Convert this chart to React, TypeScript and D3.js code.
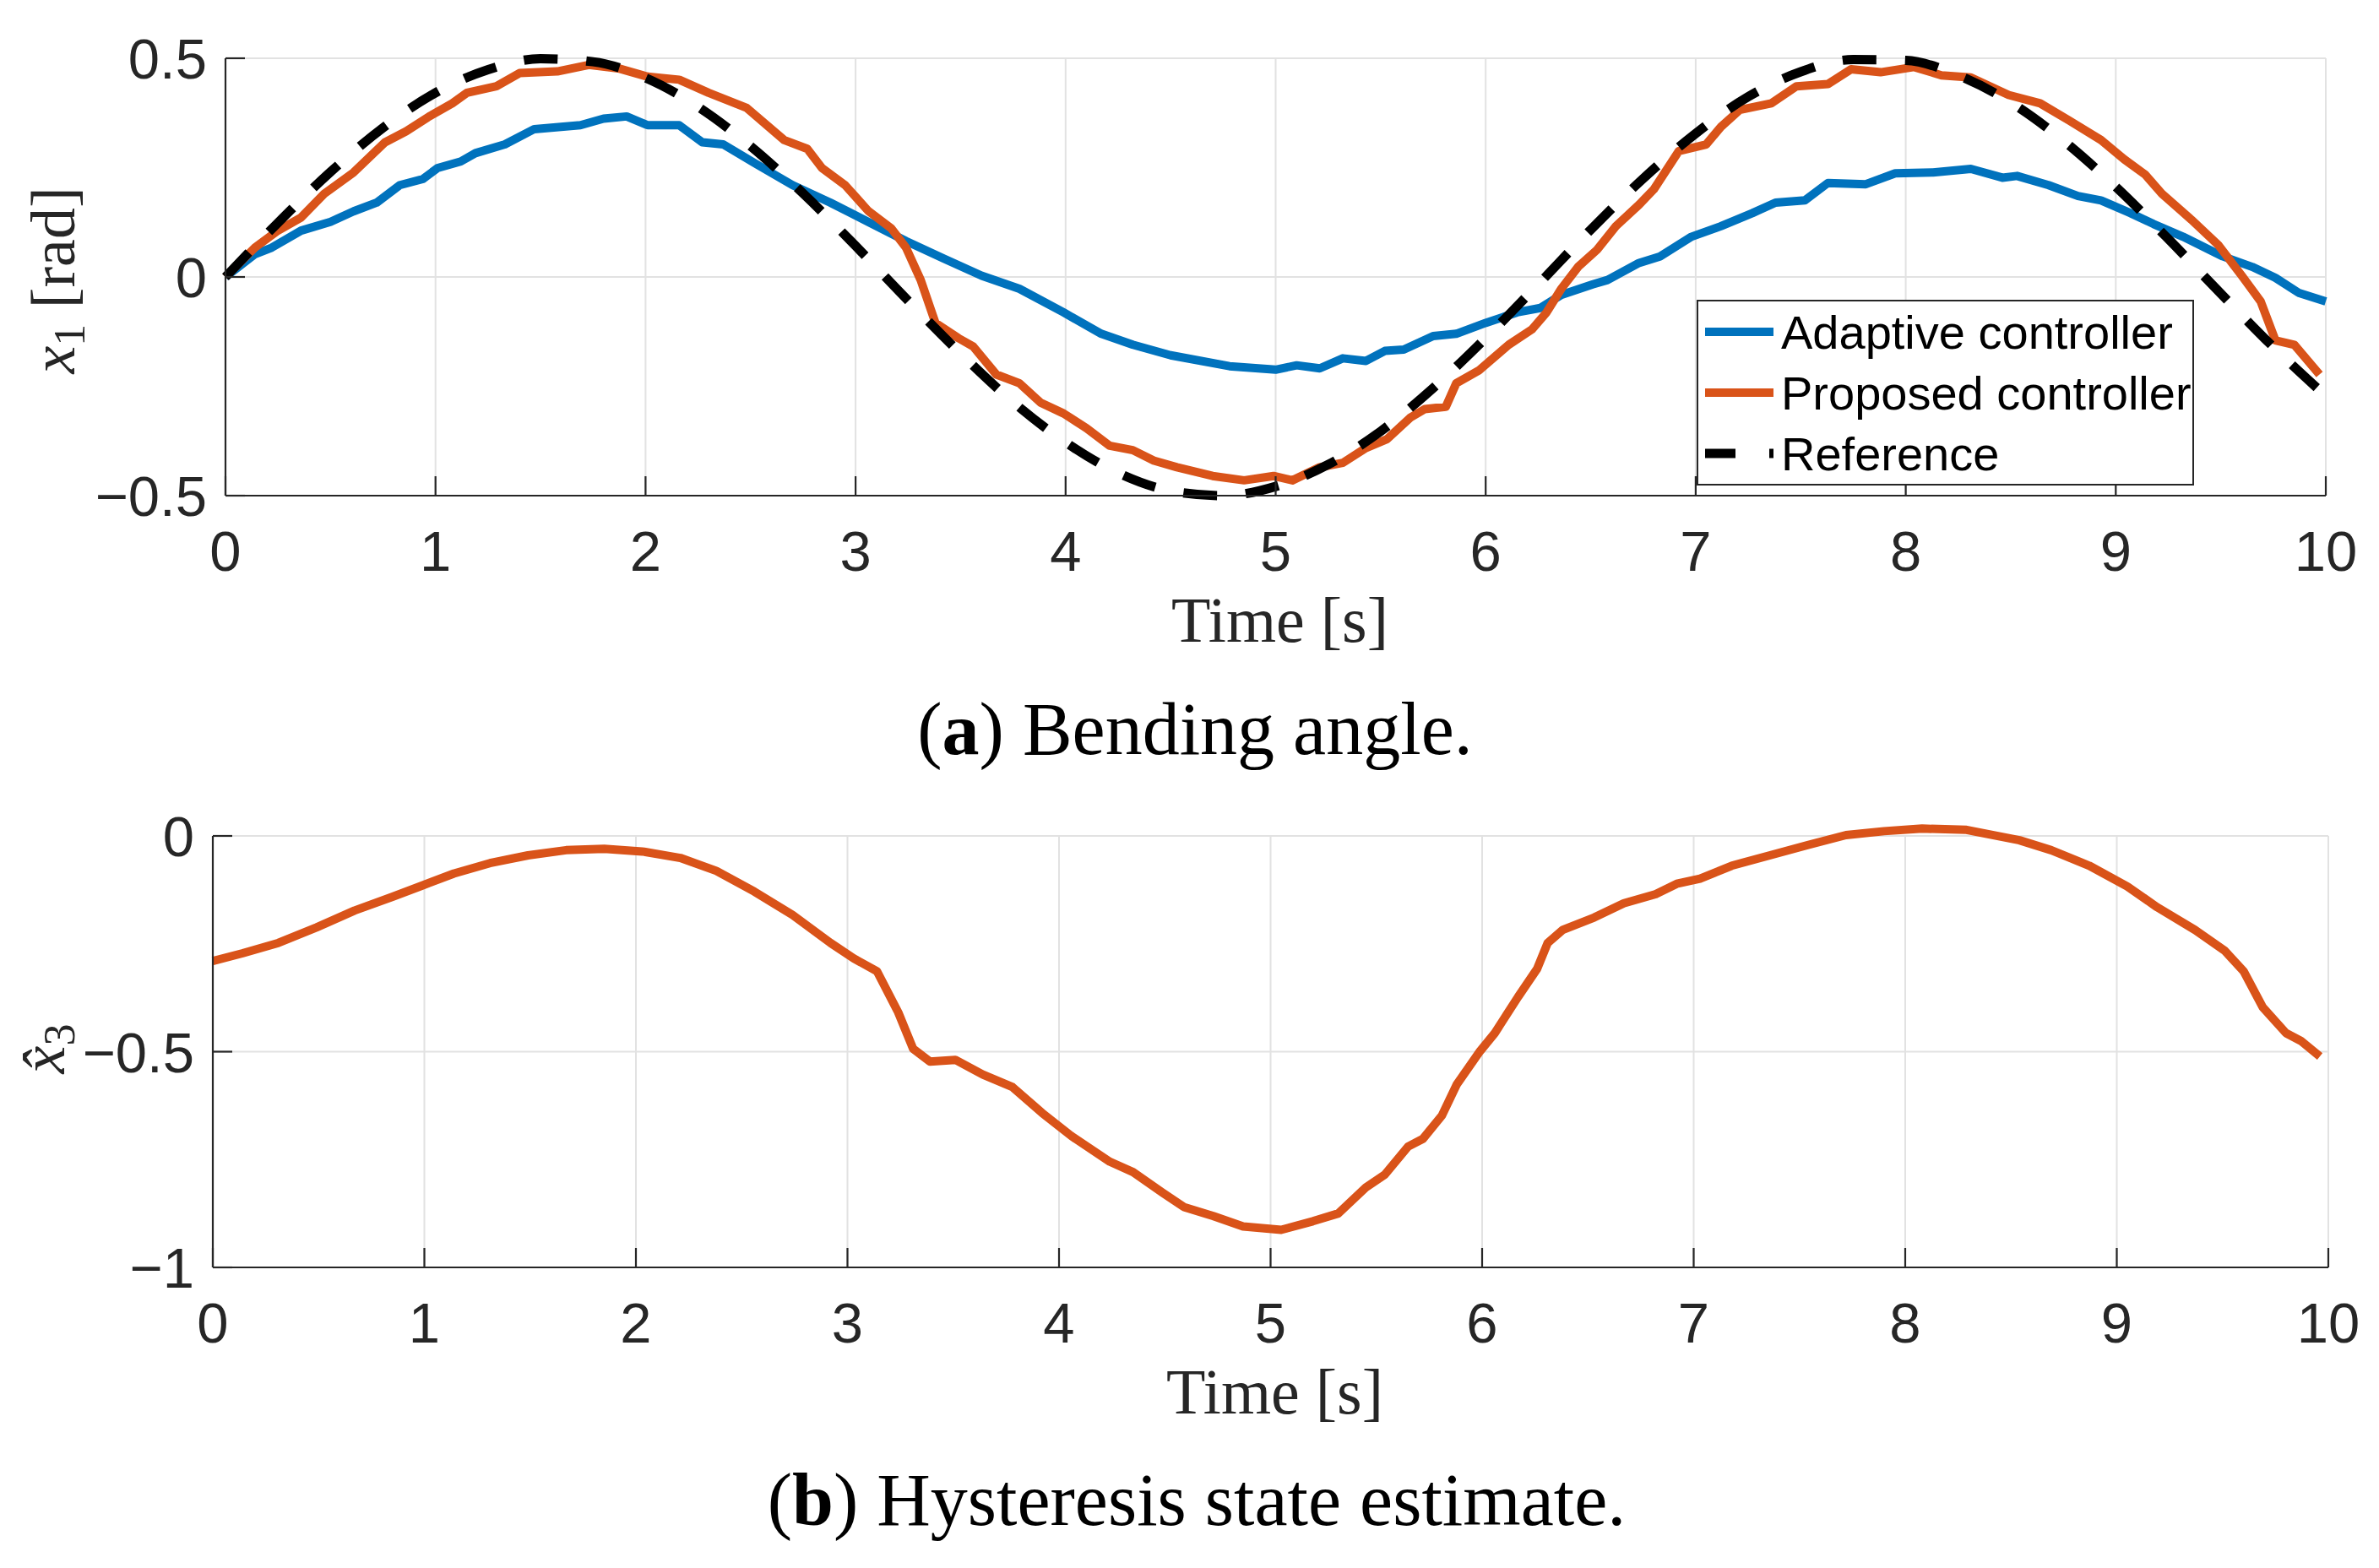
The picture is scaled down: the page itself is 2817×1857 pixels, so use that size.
import * as d3 from "d3";

// time [s], value pairs
const referenceT = [0, 0.25, 0.5, 0.75, 1, 1.25, 1.5, 1.75, 2, 2.25, 2.5, 2.75, 3, 3.25, 3.5, 3.75, 4, 4.25, 4.5, 4.75, 5, 5.25, 5.5, 5.75, 6, 6.25, 6.5, 6.75, 7, 7.25, 7.5, 7.75, 8, 8.25, 8.5, 8.75, 9, 9.25, 9.5, 9.75, 10];
const referenceX = [0, 0.124, 0.24, 0.341, 0.421, 0.474, 0.499, 0.492, 0.455, 0.389, 0.299, 0.191, 0.071, -0.054, -0.175, -0.286, -0.378, -0.448, -0.489, -0.5, -0.479, -0.429, -0.353, -0.254, -0.14, -0.017, 0.108, 0.225, 0.328, 0.412, 0.469, 0.497, 0.495, 0.461, 0.399, 0.312, 0.206, 0.087, -0.038, -0.16, -0.272];

const adaptive: [number, number][] = [
  [0, 0], [0.14, 0.052], [0.22, 0.067], [0.36, 0.106], [0.5, 0.126], [0.61, 0.15], [0.72, 0.17], [0.83, 0.21],
  [0.94, 0.224], [1.01, 0.249], [1.12, 0.264], [1.19, 0.283], [1.33, 0.303], [1.47, 0.338], [1.69, 0.347],
  [1.8, 0.362], [1.91, 0.367], [2.01, 0.347], [2.16, 0.347], [2.27, 0.308], [2.37, 0.303], [2.52, 0.26],
  [2.7, 0.21], [2.88, 0.17], [3.06, 0.126], [3.24, 0.082], [3.42, 0.042], [3.6, 0.003], [3.78, -0.027],
  [3.99, -0.081], [4.17, -0.13], [4.32, -0.155], [4.5, -0.179], [4.78, -0.204], [5.0, -0.212], [5.1, -0.202],
  [5.21, -0.209], [5.32, -0.186], [5.43, -0.192], [5.52, -0.169], [5.61, -0.166], [5.75, -0.135], [5.86, -0.13],
  [6.0, -0.105], [6.15, -0.081], [6.26, -0.071], [6.36, -0.041], [6.51, -0.017], [6.58, -0.007], [6.73, 0.032],
  [6.83, 0.047], [6.98, 0.092], [7.12, 0.116], [7.27, 0.146], [7.38, 0.17], [7.52, 0.175], [7.63, 0.215],
  [7.81, 0.212], [7.95, 0.237], [8.13, 0.239], [8.31, 0.247], [8.46, 0.227], [8.53, 0.231], [8.68, 0.21],
  [8.82, 0.185], [8.93, 0.175], [9.07, 0.146], [9.18, 0.121], [9.32, 0.092], [9.51, 0.047], [9.65, 0.023],
  [9.76, -0.002], [9.87, -0.036], [10.0, -0.056],
];

const proposed: [number, number][] = [
  [0, 0], [0.14, 0.067], [0.25, 0.106], [0.36, 0.136], [0.47, 0.19], [0.61, 0.239], [0.76, 0.308], [0.86, 0.333],
  [0.97, 0.367], [1.08, 0.397], [1.15, 0.421], [1.29, 0.436], [1.4, 0.466], [1.58, 0.47], [1.73, 0.485],
  [1.87, 0.477], [2.01, 0.458], [2.16, 0.451], [2.3, 0.421], [2.48, 0.387], [2.66, 0.313], [2.77, 0.293],
  [2.84, 0.249], [2.95, 0.21], [3.06, 0.151], [3.17, 0.111], [3.24, 0.067], [3.31, -0.007], [3.38, -0.105],
  [3.49, -0.14], [3.56, -0.159], [3.67, -0.223], [3.78, -0.243], [3.88, -0.287], [3.99, -0.312], [4.1, -0.346],
  [4.21, -0.386], [4.32, -0.396], [4.42, -0.42], [4.53, -0.435], [4.7, -0.455], [4.85, -0.465], [4.99, -0.455],
  [5.08, -0.465], [5.21, -0.435], [5.32, -0.425], [5.43, -0.391], [5.53, -0.371], [5.64, -0.322], [5.71, -0.302],
  [5.81, -0.297], [5.86, -0.243], [5.97, -0.213], [6.11, -0.155], [6.22, -0.12], [6.29, -0.081], [6.36, -0.027],
  [6.44, 0.023], [6.53, 0.062], [6.62, 0.116], [6.73, 0.165], [6.8, 0.2], [6.92, 0.288], [7.05, 0.303],
  [7.12, 0.343], [7.21, 0.382], [7.36, 0.397], [7.48, 0.436], [7.63, 0.441], [7.74, 0.475], [7.88, 0.468],
  [8.04, 0.48], [8.17, 0.461], [8.31, 0.456], [8.49, 0.416], [8.64, 0.397], [8.78, 0.357], [8.93, 0.313],
  [9.04, 0.269], [9.14, 0.234], [9.22, 0.19], [9.36, 0.131], [9.49, 0.072], [9.6, 0.003], [9.69, -0.056],
  [9.76, -0.145], [9.85, -0.155], [9.97, -0.223],
];

const hysteresis: [number, number][] = [
  [0, -0.29], [0.14, -0.272], [0.31, -0.248], [0.49, -0.212], [0.67, -0.173], [0.85, -0.141], [0.99, -0.115],
  [1.14, -0.087], [1.31, -0.063], [1.49, -0.045], [1.67, -0.033], [1.85, -0.03], [2.03, -0.036], [2.21, -0.051],
  [2.38, -0.081], [2.56, -0.129], [2.74, -0.183], [2.92, -0.248], [3.03, -0.284], [3.14, -0.314], [3.24, -0.409],
  [3.31, -0.493], [3.39, -0.523], [3.51, -0.519], [3.64, -0.553], [3.78, -0.582], [3.92, -0.642], [4.06, -0.696],
  [4.24, -0.755], [4.35, -0.779], [4.49, -0.827], [4.59, -0.86], [4.73, -0.881], [4.87, -0.905], [5.05, -0.913],
  [5.2, -0.893], [5.32, -0.875], [5.45, -0.815], [5.54, -0.785], [5.65, -0.72], [5.72, -0.702], [5.81, -0.648],
  [5.88, -0.576], [5.99, -0.499], [6.06, -0.457], [6.17, -0.373], [6.26, -0.308], [6.31, -0.248], [6.38, -0.218],
  [6.53, -0.189], [6.67, -0.156], [6.82, -0.135], [6.92, -0.111], [7.03, -0.099], [7.18, -0.069], [7.36, -0.045],
  [7.54, -0.021], [7.72, 0.002], [7.9, 0.011], [8.08, 0.017], [8.29, 0.014], [8.54, -0.01], [8.69, -0.033],
  [8.87, -0.069], [9.05, -0.117], [9.19, -0.165], [9.37, -0.218], [9.51, -0.266], [9.6, -0.314], [9.69, -0.397],
  [9.8, -0.457], [9.87, -0.475], [9.96, -0.511],
];

const xTicks = [0, 1, 2, 3, 4, 5, 6, 7, 8, 9, 10];
const yTicksTop = [-0.5, 0, 0.5];
const yTicksBottom = [-1, -0.5, 0];
const legendLabels = ["Adaptive controller", "Proposed controller", "Reference"];

const BLUE = "#0072BD";
const ORANGE = "#D95319";
const AXIS = "#262626";
const GRID = "#e2e2e2";
const SANS = "'Liberation Sans', Arial, sans-serif";
const SERIF = "'Liberation Serif', 'Times New Roman', serif";

const fmt = (v: number) => d3.format("")(v);

interface PanelProps {
  x0: number;
  x1: number;
  yTop: number;
  yBottom: number;
  domain: [number, number];
  yTicks: number[];
  children: (x: d3.ScaleLinear<number, number>, y: d3.ScaleLinear<number, number>) => React.ReactNode;
}

const Panel = ({ x0, x1, yTop, yBottom, domain, yTicks, children }: PanelProps) => {
  const x = d3.scaleLinear().domain([0, 10]).range([x0, x1]);
  const y = d3.scaleLinear().domain(domain).range([yBottom, yTop]);
  const tickLen = 23;
  return (
    <g>
      {/* grid */}
      {xTicks.map((t) => (
        <line key={"gx" + t} x1={x(t)} x2={x(t)} y1={yTop} y2={yBottom} stroke={GRID} strokeWidth={2} />
      ))}
      {yTicks.map((t) => (
        <line key={"gy" + t} x1={x0} x2={x1} y1={y(t)} y2={y(t)} stroke={GRID} strokeWidth={2} />
      ))}
      {children(x, y)}
      {/* axes */}
      <line x1={x0} x2={x1} y1={yBottom} y2={yBottom} stroke={AXIS} strokeWidth={2.2} />
      <line x1={x0} x2={x0} y1={yTop} y2={yBottom} stroke={AXIS} strokeWidth={2.2} />
      {xTicks.map((t) => (
        <g key={"tx" + t}>
          <line x1={x(t)} x2={x(t)} y1={yBottom} y2={yBottom - tickLen} stroke={AXIS} strokeWidth={2.2} />
          <text x={x(t)} y={yBottom + 89} textAnchor="middle" fontFamily={SANS} fontSize={67} fill={AXIS}>
            {fmt(t)}
          </text>
        </g>
      ))}
      {yTicks.map((t) => (
        <g key={"ty" + t}>
          <line x1={x0} x2={x0 + tickLen} y1={y(t)} y2={y(t)} stroke={AXIS} strokeWidth={2.2} />
          <text x={x0 - 22} y={y(t)} dy="0.36em" textAnchor="end" fontFamily={SANS} fontSize={67} fill={AXIS}>
            {fmt(t)}
          </text>
        </g>
      ))}
      <text x={(x0 + x1) / 2 + 5} y={yBottom + 173} textAnchor="middle" fontFamily={SERIF} fontSize={76} fill={AXIS}>
        Time [s]
      </text>
    </g>
  );
};

export default function App() {
  const line = (x: d3.ScaleLinear<number, number>, y: d3.ScaleLinear<number, number>) =>
    d3
      .line<[number, number]>()
      .x((d) => x(d[0]))
      .y((d) => y(d[1]));
  const refPts: [number, number][] = referenceT.map((t, i) => [t, referenceX[i]]);

  const legendRows = [
    { color: BLUE, dash: undefined, width: 10 },
    { color: ORANGE, dash: undefined, width: 10 },
    { color: "#000", dash: "36 40", width: 11 },
  ];

  return (
    <svg width={2817} height={1857} style={{ position: "absolute", left: 0, top: 0, background: "#fff" }}>
      <Panel x0={267} x1={2754} yTop={69} yBottom={587} domain={[-0.5, 0.5]} yTicks={yTicksTop}>
        {(x, y) => (
          <g>
            <path d={line(x, y)(adaptive) ?? ""} fill="none" stroke={BLUE} strokeWidth={10} strokeLinejoin="round" />
            <path d={line(x, y)(proposed) ?? ""} fill="none" stroke={ORANGE} strokeWidth={10} strokeLinejoin="round" />
            <path
              d={line(x, y).curve(d3.curveMonotoneX)(refPts) ?? ""}
              fill="none"
              stroke="#000"
              strokeWidth={11}
              strokeDasharray="40 34"
            />
          </g>
        )}
      </Panel>

      {/* legend */}
      <g>
        <rect x={2010} y={356} width={587} height={218} fill="#fff" stroke={AXIS} strokeWidth={2} />
        {legendLabels.map((label, i) => {
          const yy = 393 + i * 72;
          const r = legendRows[i];
          return (
            <g key={label}>
              <line x1={2019} x2={2100} y1={yy} y2={yy} stroke={r.color} strokeWidth={r.width} strokeDasharray={r.dash} />
              <text x={2109} y={yy} dy="0.36em" fontFamily={SANS} fontSize={56} fill="#000">
                {label}
              </text>
            </g>
          );
        })}
      </g>

      {/* y label top */}
      <text transform="translate(88,332) rotate(-90)" textAnchor="middle" fontFamily={SERIF} fontSize={74} fill={AXIS}>
        <tspan fontStyle="italic">x</tspan>
        <tspan fontSize={52} dy={12}>1</tspan>
        <tspan dy={-12}>{"\u00a0[rad]"}</tspan>
      </text>

      <text x={1415} y={893} textAnchor="middle" fontFamily={SERIF} fontSize={88} fill="#000">
        (<tspan fontWeight="bold">a</tspan>) Bending angle.
      </text>

      <Panel x0={252} x1={2757} yTop={990} yBottom={1501} domain={[-1, 0]} yTicks={yTicksBottom}>
        {(x, y) => (
          <path d={line(x, y)(hysteresis) ?? ""} fill="none" stroke={ORANGE} strokeWidth={10} strokeLinejoin="round" />
        )}
      </Panel>

      {/* y label bottom */}
      <text transform="translate(76,1242) rotate(-90)" textAnchor="middle" fontFamily={SERIF} fontSize={74} fill={AXIS}>
        <tspan fontStyle="italic">{"x\u0302"}</tspan>
        <tspan fontSize={52} dy={12}>3</tspan>
      </text>

      <text x={1417} y={1806} textAnchor="middle" fontFamily={SERIF} fontSize={88} fill="#000">
        (<tspan fontWeight="bold">b</tspan>) Hysteresis state estimate.
      </text>
    </svg>
  );
}
